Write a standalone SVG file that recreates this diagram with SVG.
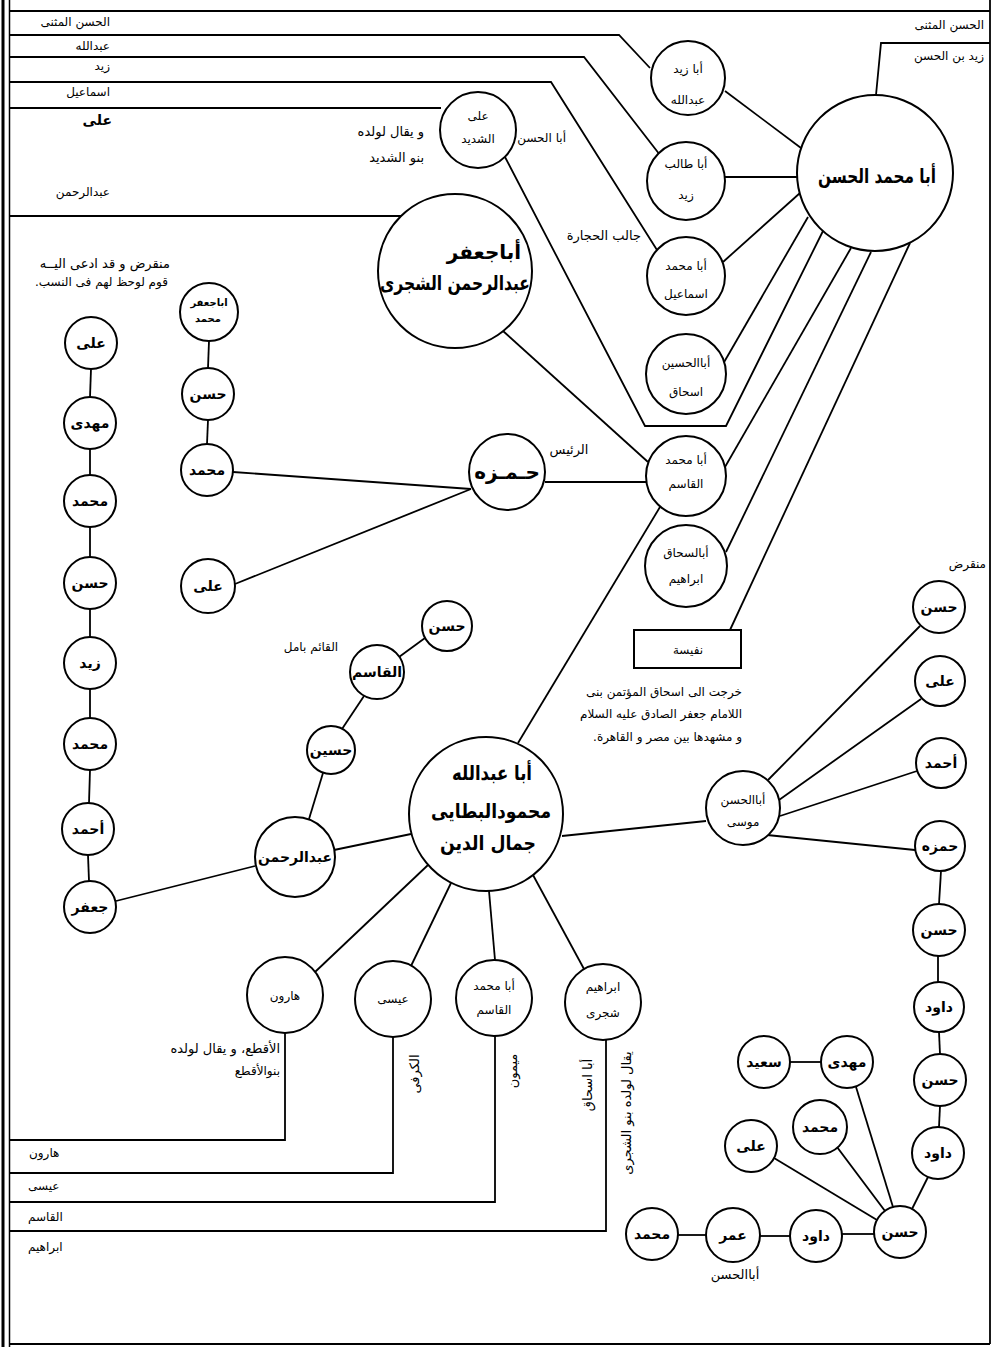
<svg xmlns="http://www.w3.org/2000/svg" width="995" height="1347" viewBox="0 0 995 1347">
<style>
.c{fill:#fff;stroke:#000;stroke-width:2}
.l{fill:none;stroke:#000;stroke-width:1.8}
.fr{fill:none;stroke:#000}
text{font-family:"DejaVu Sans",sans-serif;fill:#000}
.m{text-anchor:middle}
.e{text-anchor:end}
.s{text-anchor:start}
.b{font-weight:bold}
.n{font-size:14px;font-weight:bold;text-anchor:middle}
.t{font-size:12px;text-anchor:middle}
.big{font-size:20px;font-weight:bold;text-anchor:middle}
.lb{font-size:12px}
.nt{font-size:13px}
</style>
<rect width="995" height="1347" fill="#fff"/>
<g id="frame" class="fr">
<line x1="3" y1="0" x2="3" y2="1347" stroke-width="3"/>
<line x1="9.5" y1="0" x2="9.5" y2="1347" stroke-width="1.5"/>
<line x1="9" y1="11" x2="990" y2="11" stroke-width="1.8"/>
<line x1="990" y1="0" x2="990" y2="1344" stroke-width="1.8"/>
<line x1="9" y1="1344" x2="990" y2="1344" stroke-width="1.8"/>
</g>
<g id="connectors" class="l">
<path d="M9,35 H619 L650,68"/>
<path d="M9,57 H584 L660,155"/>
<path d="M9,82 H551 L657,250"/>
<path d="M9,108 H441"/>
<path d="M9,216 H401"/>
<path d="M990,43 H881 L876,95"/>
<path d="M725,91 L801,148"/>
<path d="M725,177 H798"/>
<path d="M723,262 L800,193"/>
<path d="M505,157 L645,426 H726 L823,231"/>
<path d="M723,364 L808,217"/>
<path d="M725,467 L851,248"/>
<path d="M726,552 L871,252"/>
<path d="M730,630 L910,243"/>
<path d="M503,331 L648,462"/>
<path d="M545,482 H647"/>
<path d="M233,472 L471,489"/>
<path d="M235,584 L471,489"/>
<path d="M660,507 L518,743"/>
<path d="M562,836 L706,821"/>
<path d="M768,780 L920,626"/>
<path d="M779,800 L921,699"/>
<path d="M780,816 L917,771"/>
<path d="M767,835 L915,850"/>
<path d="M941,871 L939,904"/>
<path d="M938,956 L938,982"/>
<path d="M939,1032 L940,1054"/>
<path d="M940,1106 L939,1127"/>
<path d="M928,1177 L912,1209"/>
<path d="M774,1158 L877,1220"/>
<path d="M837,1147 L885,1211"/>
<path d="M856,1087 L893,1207"/>
<path d="M790,1062 H821"/>
<path d="M874,1234 H842"/>
<path d="M790,1236 H760"/>
<path d="M706,1235 H678"/>
<path d="M411,834 L334,850"/>
<path d="M255,866 L116,901"/>
<path d="M309,819 L323,773"/>
<path d="M342,729 L364,696"/>
<path d="M399,657 L425,638"/>
<path d="M428,865 L315,972"/>
<path d="M451,883 L411,966"/>
<path d="M489,891 L495,960"/>
<path d="M533,875 L584,969"/>
<path d="M285,1033 V1140 H9"/>
<path d="M393,1037 V1173 H9"/>
<path d="M495,1036 V1202 H9"/>
<path d="M606,1040 V1231 H9"/>
<path d="M91,369 L90,397"/>
<path d="M90,449 L90,475"/>
<path d="M90,527 L90,557"/>
<path d="M90,609 L90,637"/>
<path d="M90,689 L90,718"/>
<path d="M90,770 L89,803"/>
<path d="M88,855 L89,881"/>
<path d="M209,341 L208,368"/>
<path d="M208,420 L207,444"/>
</g>
<g id="labels">
<text class="lb e" x="110" y="26">الحسن المثنى</text>
<text class="lb e" x="110" y="50">عبدالله</text>
<text class="lb e" x="110" y="70">زيد</text>
<text class="lb e" x="110" y="96">اسماعيل</text>
<text class="e b" x="112" y="125" font-size="14">على</text>
<text class="lb e" x="110" y="196">عبدالرحمن</text>
<text class="lb e" x="984" y="29">الحسن المثنى</text>
<text class="lb e" x="984" y="60">زيد بن الحسن</text>
<text class="nt e" x="170" y="268">منقرض و قد ادعى اليــه</text>
<text class="lb e" x="168" y="286">قوم لوحظ لهم فى النسب.&#x200F;</text>
<text class="nt e" x="424" y="136">و يقال لولده</text>
<text class="nt e" x="424" y="162">بنو الشديد</text>
<text class="lb e" x="566" y="142">أبا الحسن</text>
<text class="nt e" x="641" y="240">جالب الحجارة</text>
<text class="nt m" x="569" y="454">الرئيس</text>
<text class="lb m" x="311" y="651">القائم بامل</text>
<text class="lb e" x="986" y="568">منقرض</text>
<text class="lb e" x="742" y="696">خرجت الى اسحاق المؤتمن بنى</text>
<text class="lb e" x="742" y="718">اللامام جعفر الصادق عليه السلام</text>
<text class="lb e" x="742" y="741">و مشهدها بين مصر و القاهرة.&#x200F;</text>
<text class="nt m" x="735" y="1279">أباالحسن</text>
<text class="nt e" x="280" y="1053">الأقطع، و يقال لولده</text>
<text class="lb e" x="280" y="1075">بنوالأقطع</text>
<text class="lb s" x="29" y="1157">هارون</text>
<text class="lb s" x="28" y="1190">عيسى</text>
<text class="lb s" x="28" y="1221">القاسم</text>
<text class="lb s" x="28" y="1251">ابراهيم</text>
<text class="nt m" transform="translate(419,1074) rotate(-90)">الكرفى</text>
<text class="nt m" transform="translate(517,1071) rotate(-90)">ميمون</text>
<text class="nt m" transform="translate(592,1085) rotate(-90)">أبا اسحاق</text>
<text class="nt m" transform="translate(631,1113) rotate(-90)">يقال لولده بنو الشجرى</text>
</g>
<g id="n-hasan"><circle class="c" cx="875" cy="173" r="78"/><text class="big" x="877" y="183" font-size="19" textLength="118" lengthAdjust="spacingAndGlyphs">أبا محمد الحسن</text></g>
<g id="n-abuzayd"><circle class="c" cx="688" cy="78" r="37"/><text class="t" x="688" y="73">أبا زيد</text><text class="t" x="688" y="104">عبدالله</text></g>
<g id="n-abutalib"><circle class="c" cx="686" cy="181" r="39"/><text class="t" x="686" y="168">أبا طالب</text><text class="t" x="686" y="199">زيد</text></g>
<g id="n-ismail"><circle class="c" cx="686" cy="276" r="39"/><text class="t" x="686" y="270">أبا محمد</text><text class="t" x="686" y="298">اسماعيل</text></g>
<g id="n-ishaq"><circle class="c" cx="686" cy="374" r="40"/><text class="t" x="686" y="367">أباالحسين</text><text class="t" x="686" y="396">اسحاق</text></g>
<g id="n-qasim1"><circle class="c" cx="686" cy="476" r="40"/><text class="t" x="686" y="464">أبا محمد</text><text class="t" x="686" y="488">القاسم</text></g>
<g id="n-ibrahim1"><circle class="c" cx="686" cy="566" r="41"/><text class="t" x="686" y="557">أبالسحاق</text><text class="t" x="686" y="583">ابراهيم</text></g>
<g id="n-nafisa"><rect class="c" x="634" y="630" width="107" height="38"/><text class="t" x="688" y="654">نفيسة</text></g>
<g id="n-alishadid"><circle class="c" cx="478" cy="130" r="38"/><text class="t" x="478" y="120">على</text><text class="t" x="478" y="143">الشديد</text></g>
<g id="n-abujafar"><circle class="c" cx="455" cy="271" r="77"/><text class="big" x="484" y="259" font-size="18">أباجعفر</text><text class="big" x="455" y="290" font-size="19" textLength="150" lengthAdjust="spacingAndGlyphs">عبدالرحمن الشجرى</text></g>
<g id="n-hamza"><circle class="c" cx="507" cy="472" r="38"/><text class="big" x="507" y="479" font-size="20">حـمـزه</text></g>
<g id="n-abujafar-m"><circle class="c" cx="209" cy="312" r="29"/><text class="m b" x="209" y="306" font-size="10">اباجعفر</text><text class="m b" x="208" y="322" font-size="10">محمد</text></g>
<g id="n-hasan-a"><circle class="c" cx="208" cy="394" r="26"/><text class="n" x="208" y="399">حسن</text></g>
<g id="n-muhammad-a"><circle class="c" cx="207" cy="470" r="26"/><text class="n" x="207" y="475">محمد</text></g>
<g id="n-ali-a"><circle class="c" cx="208" cy="586" r="27"/><text class="n" x="208" y="591">على</text></g>
<g id="n-ali-b"><circle class="c" cx="91" cy="343" r="26"/><text class="n" x="91" y="348">على</text></g>
<g id="n-mahdi-b"><circle class="c" cx="90" cy="423" r="26"/><text class="n" x="90" y="428">مهدى</text></g>
<g id="n-muhammad-b"><circle class="c" cx="90" cy="501" r="26"/><text class="n" x="90" y="506">محمد</text></g>
<g id="n-hasan-b"><circle class="c" cx="90" cy="583" r="26"/><text class="n" x="90" y="588">حسن</text></g>
<g id="n-zayd-b"><circle class="c" cx="90" cy="663" r="26"/><text class="n" x="90" y="668">زيد</text></g>
<g id="n-muhammad-b2"><circle class="c" cx="90" cy="744" r="26"/><text class="n" x="90" y="749">محمد</text></g>
<g id="n-ahmad-b"><circle class="c" cx="88" cy="829" r="26"/><text class="n" x="88" y="834">أحمد</text></g>
<g id="n-jafar-b"><circle class="c" cx="90" cy="907" r="26"/><text class="n" x="90" y="912">جعفر</text></g>
<g id="n-jamal"><circle class="c" cx="486" cy="814" r="77"/><text class="big" x="492" y="780" font-size="19" textLength="80" lengthAdjust="spacingAndGlyphs">أبا عبدالله</text><text class="big" x="491" y="818" font-size="19" textLength="120" lengthAdjust="spacingAndGlyphs">محمودالبطايى</text><text class="big" x="488" y="850" font-size="19" textLength="96" lengthAdjust="spacingAndGlyphs">جمال الدين</text></g>
<g id="n-abdulrahman"><circle class="c" cx="295" cy="857" r="40"/><text class="n" x="295" y="862" font-size="13">عبدالرحمن</text></g>
<g id="n-husayn"><circle class="c" cx="331" cy="750" r="24"/><text class="n" x="331" y="755" font-size="13">حسين</text></g>
<g id="n-qasim-c"><circle class="c" cx="377" cy="672" r="27"/><text class="n" x="377" y="677" font-size="12">القاسم</text></g>
<g id="n-hasan-c"><circle class="c" cx="447" cy="626" r="25"/><text class="n" x="447" y="631">حسن</text></g>
<g id="n-harun"><circle class="c" cx="285" cy="995" r="38"/><text class="t" x="285" y="1000" font-size="11">هارون</text></g>
<g id="n-isa"><circle class="c" cx="393" cy="999" r="38"/><text class="t" x="393" y="1003" font-size="11">عيسى</text></g>
<g id="n-qasim2"><circle class="c" cx="494" cy="998" r="38"/><text class="t" x="494" y="990">أبا محمد</text><text class="t" x="494" y="1014">القاسم</text></g>
<g id="n-ibrahim2"><circle class="c" cx="603" cy="1002" r="38"/><text class="t" x="603" y="991">ابراهيم</text><text class="t" x="603" y="1017">شجرى</text></g>
<g id="n-musa"><circle class="c" cx="743" cy="808" r="37"/><text class="t" x="743" y="804">أباالحسن</text><text class="t" x="743" y="826">موسى</text></g>
<g id="n-hasan-d1"><circle class="c" cx="939" cy="607" r="26"/><text class="n" x="939" y="612">حسن</text></g>
<g id="n-ali-d"><circle class="c" cx="940" cy="681" r="25"/><text class="n" x="940" y="686">على</text></g>
<g id="n-ahmad-d"><circle class="c" cx="941" cy="763" r="25"/><text class="n" x="941" y="768">أحمد</text></g>
<g id="n-hamza-d"><circle class="c" cx="940" cy="846" r="25"/><text class="n" x="940" y="851">حمزه</text></g>
<g id="n-hasan-d2"><circle class="c" cx="939" cy="930" r="26"/><text class="n" x="939" y="935">حسن</text></g>
<g id="n-dawud-d1"><circle class="c" cx="939" cy="1007" r="25"/><text class="n" x="939" y="1012">داود</text></g>
<g id="n-hasan-d3"><circle class="c" cx="940" cy="1080" r="26"/><text class="n" x="940" y="1085">حسن</text></g>
<g id="n-dawud-d2"><circle class="c" cx="938" cy="1153" r="26"/><text class="n" x="938" y="1158">داود</text></g>
<g id="n-hasan-hub"><circle class="c" cx="900" cy="1232" r="26"/><text class="n" x="900" y="1237">حسن</text></g>
<g id="n-dawud-e"><circle class="c" cx="816" cy="1236" r="26"/><text class="n" x="816" y="1241">داود</text></g>
<g id="n-umar-e"><circle class="c" cx="733" cy="1235" r="27"/><text class="n" x="733" y="1240">عمر</text></g>
<g id="n-muhammad-e"><circle class="c" cx="652" cy="1234" r="26"/><text class="n" x="652" y="1239">محمد</text></g>
<g id="n-ali-e"><circle class="c" cx="751" cy="1146" r="26"/><text class="n" x="751" y="1151">على</text></g>
<g id="n-muhammad-f"><circle class="c" cx="820" cy="1127" r="27"/><text class="n" x="820" y="1132">محمد</text></g>
<g id="n-mahdi-f"><circle class="c" cx="847" cy="1062" r="26"/><text class="n" x="847" y="1067">مهدى</text></g>
<g id="n-said-f"><circle class="c" cx="764" cy="1062" r="26"/><text class="n" x="764" y="1067">سعيد</text></g>
</svg>
